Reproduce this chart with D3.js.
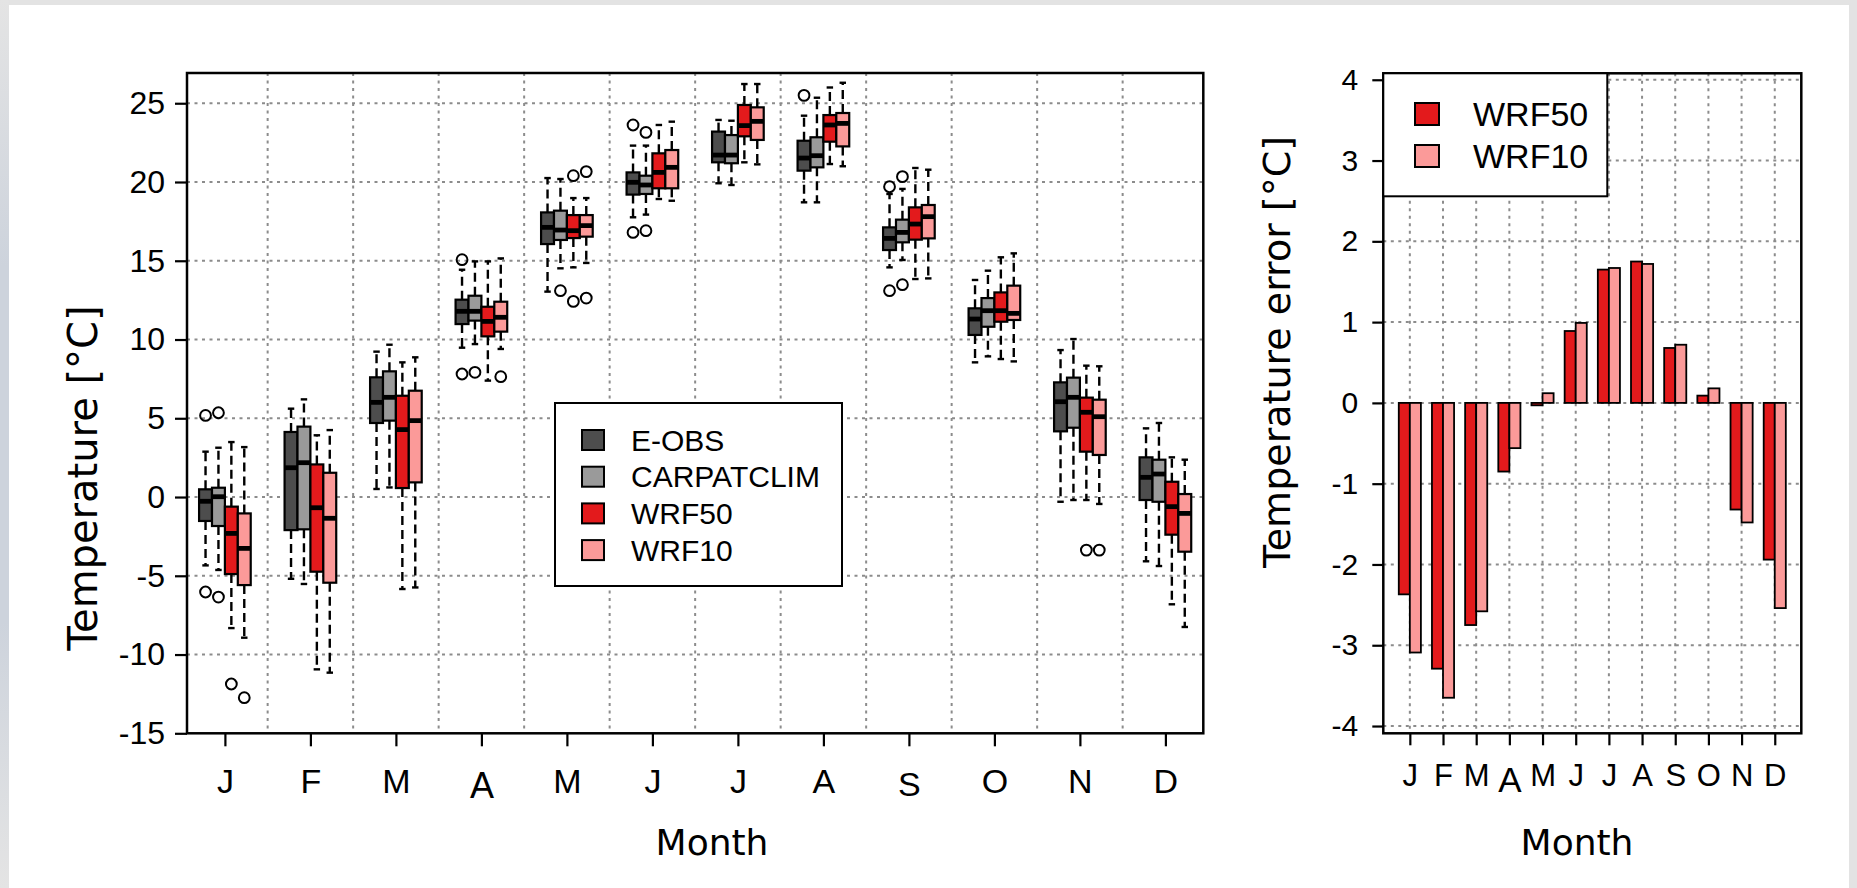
<!DOCTYPE html>
<html><head><meta charset="utf-8">
<script src="https://cdn.jsdelivr.net/npm/d3@7"></script>
<style>
html,body{margin:0;padding:0;background:#fff;}
svg{display:block;}
text{font-family:"Liberation Sans",Arial,sans-serif;fill:#000;}
.title{font-family:"DejaVu Sans",sans-serif;}
</style></head>
<body>
<svg id="chart" width="1857" height="888"></svg>
<script>
// ---------------- DATA ----------------
const months = ["J","F","M","A","M","J","J","A","S","O","N","D"];
const seriesNames = ["E-OBS","CARPATCLIM","WRF50","WRF10"];
const seriesColors = ["#4d4d4d","#9a9a9a","#e31a1c","#fb9a99"];
const tempTicks = [-15,-10,-5,0,5,10,15,20,25];
const errTicks = [-4,-3,-2,-1,0,1,2,3,4];

// box statistics per month: [lower whisker, Q1, median, Q3, upper whisker]
const eobsStats = [
  [-4.34,-1.52,-0.27,0.49,2.88],[-5.19,-2.10,1.86,4.13,5.61],[0.51,4.70,6.01,7.60,9.23],
  [9.48,10.98,11.79,12.53,14.43],[13.04,16.06,17.12,18.07,20.25],[17.76,19.20,19.98,20.61,22.31],
  [19.92,21.25,21.71,23.20,23.94],[18.71,20.72,21.52,22.62,24.21],[14.58,15.68,16.42,17.12,19.24],
  [8.55,10.29,11.30,11.98,13.78],[-0.30,4.17,6.05,7.28,9.33],[-4.08,-0.19,1.25,2.52,4.36]];
const carpStats = [
  [-4.63,-1.84,0.02,0.59,3.13],[-5.52,-2.05,2.18,4.47,6.20],[0.61,4.85,6.33,7.98,9.67],
  [9.71,11.20,11.79,12.78,14.96],[14.52,16.32,16.95,18.18,20.19],[17.93,19.24,19.81,20.40,22.31],
  [19.81,21.19,21.71,22.98,23.89],[18.71,20.93,21.67,22.84,25.35],[15.05,16.17,16.80,17.61,19.56],
  [8.93,10.81,11.83,12.63,14.37],[-0.19,4.40,6.33,7.58,10.03],[-4.38,-0.30,1.46,2.37,4.70]];
const wrf50Stats = [
  [-8.32,-4.89,-2.31,-0.61,3.49],[-10.94,-4.74,-0.68,2.07,3.92],[-5.84,0.57,4.28,6.43,8.55],
  [7.39,10.20,11.15,12.08,14.96],[14.58,16.44,16.91,17.90,18.98],[18.92,19.60,20.61,21.82,23.62],
  [21.25,22.90,23.58,24.89,26.22],[21.14,22.56,23.62,24.25,26.00],[13.84,16.34,17.33,18.39,20.89],
  [8.76,11.13,11.83,12.99,15.22],[-0.19,2.88,5.38,6.31,8.34],[-6.81,-2.39,-0.61,0.97,2.52]];
const wrf10Stats = [
  [-8.93,-5.59,-3.26,-1.04,3.17],[-11.15,-5.44,-1.35,1.54,4.25],[-5.74,0.93,4.85,6.75,8.87],
  [9.40,10.50,11.41,12.40,15.15],[14.86,16.53,17.23,17.90,18.98],[18.81,19.60,20.93,22.03,23.83],
  [21.12,22.67,23.85,24.74,26.22],[21.00,22.26,23.72,24.38,26.30],[13.88,16.42,17.80,18.54,20.78],
  [8.61,11.24,11.66,13.42,15.47],[-0.44,2.67,5.10,6.18,8.30],[-8.25,-3.47,-1.04,0.19,2.37]];
// outliers per month
const eobsOut = [[5.18,-6.03],[],[],[15.07,7.81],[],[23.62,16.80],[],[25.50],[19.70,13.10],[],[],[]];
const carpOut = [[5.35,-6.35],[],[],[7.92],[13.10],[23.15,16.91],[],[],[20.34,13.48],[],[],[]];
const wrf50Out = [[-11.87],[],[],[],[20.40,12.42],[],[],[],[],[],[-3.37],[]];
const wrf10Out = [[-12.74],[],[],[7.64],[20.66,12.63],[],[],[],[],[],[-3.37],[]];

// mean temperature error [°C]
const wrf50Err = [-2.37,-3.29,-2.75,-0.85,-0.03,0.89,1.65,1.75,0.68,0.09,-1.32,-1.94];
const wrf10Err = [-3.09,-3.65,-2.58,-0.56,0.12,0.99,1.67,1.72,0.72,0.18,-1.48,-2.54];

const allStats = [eobsStats, carpStats, wrf50Stats, wrf10Stats];
const allOut = [eobsOut, carpOut, wrf50Out, wrf10Out];

// ---------------- DRAW ----------------
const svg = d3.select("#chart");
const defs = svg.append("defs");
const lg = defs.append("linearGradient").attr("id","edge").attr("x1",0).attr("x2",0).attr("y1",0).attr("y2",1);
lg.append("stop").attr("offset","0").attr("stop-color","#e4e4e4");
lg.append("stop").attr("offset","0.3").attr("stop-color","#cdd3dc");
lg.append("stop").attr("offset","0.7").attr("stop-color","#cdd3dc");
lg.append("stop").attr("offset","1").attr("stop-color","#e4e4e4");
svg.append("rect").attr("width",1857).attr("height",888).attr("fill","#e3e3e3");
svg.append("rect").attr("x",0).attr("y",0).attr("width",9).attr("height",888).attr("fill","url(#edge)");
svg.append("rect").attr("x",9).attr("y",5).attr("width",1840).attr("height",883).attr("fill","#fff");

const gridCol = "#8c8c8c";
const fmt = d => String(d);   // plain hyphen-minus as in the original

// ===== LEFT: boxplots =====
const L = {x0:187, x1:1203.3, y0:73, y1:733.3};
const xL = d3.scaleLinear().domain([-0.4433, 11.4433]).range([L.x0, L.x1]);
const yL = d3.scaleLinear().domain([-15, 26.92]).range([L.y1, L.y0]);
const step = 0.151;
const offs = [-1.5,-0.5,0.5,1.5].map(k => k*step);
const bw = xL(step) - xL(0);

const gl = svg.append("g");
gl.selectAll(".hg").data(tempTicks.filter(t => t > -15)).join("line")
  .attr("x1",L.x0).attr("x2",L.x1).attr("y1",d=>yL(d)).attr("y2",d=>yL(d))
  .attr("stroke",gridCol).attr("stroke-width",2).attr("stroke-dasharray","3,4.5");
gl.selectAll(".vg").data(d3.range(11).map(i=>i+0.5)).join("line")
  .attr("x1",d=>xL(d)).attr("x2",d=>xL(d)).attr("y1",L.y0).attr("y2",L.y1)
  .attr("stroke",gridCol).attr("stroke-width",2).attr("stroke-dasharray","3,4.5");

for (let m = 0; m < 12; m++) {
  for (let s = 0; s < 4; s++) {
    const st = allStats[s][m];
    const cx = xL(m + offs[s]);
    const g = gl.append("g");
    [[st[3],st[4]],[st[1],st[0]]].forEach(([a,b]) => {
      g.append("line").attr("x1",cx).attr("x2",cx).attr("y1",yL(a)).attr("y2",yL(b))
        .attr("stroke","#000").attr("stroke-width",2.4).attr("stroke-dasharray","9,5");
    });
    [st[0],st[4]].forEach(v => {
      g.append("line").attr("x1",cx-bw/4).attr("x2",cx+bw/4).attr("y1",yL(v)).attr("y2",yL(v))
        .attr("stroke","#000").attr("stroke-width",2.4);
    });
    g.append("rect").attr("x",cx-bw/2).attr("width",bw)
      .attr("y",yL(st[3])).attr("height",yL(st[1])-yL(st[3]))
      .attr("fill",seriesColors[s]).attr("stroke","#000").attr("stroke-width",2.2);
    g.append("line").attr("x1",cx-bw/2).attr("x2",cx+bw/2).attr("y1",yL(st[2])).attr("y2",yL(st[2]))
      .attr("stroke","#000").attr("stroke-width",4.8);
    allOut[s][m].forEach(v => {
      g.append("circle").attr("cx",cx).attr("cy",yL(v)).attr("r",5.4)
        .attr("fill","none").attr("stroke","#000").attr("stroke-width",2);
    });
  }
}
gl.append("rect").attr("x",L.x0).attr("y",L.y0).attr("width",L.x1-L.x0).attr("height",L.y1-L.y0)
  .attr("fill","none").attr("stroke","#000").attr("stroke-width",2.5);

const axL = gl.append("g").attr("transform",`translate(${L.x0},0)`)
  .call(d3.axisLeft(yL).tickValues(tempTicks).tickFormat(fmt).tickSize(12).tickPadding(10));
const axB = gl.append("g").attr("transform",`translate(0,${L.y1})`)
  .call(d3.axisBottom(xL).tickValues(d3.range(12)).tickFormat(i=>months[i]).tickSize(13));
[axL, axB].forEach(a => {
  a.select(".domain").remove();
  a.selectAll("line").attr("stroke","#000").attr("stroke-width",2.2);
  a.selectAll("text").attr("font-family","Liberation Sans, Arial, sans-serif");
});
axL.selectAll("text").attr("font-size",32);
axB.selectAll("text").attr("font-size",34).attr("dy",null)
  .attr("y",(d)=> 60 + (d===3 ? 5 : d===8 ? 3 : 0));
axB.selectAll("text").filter(d=>d===3).attr("font-size",36);

// legend
const lgL = gl.append("g");
lgL.append("rect").attr("x",555).attr("y",403).attr("width",287).attr("height",183)
  .attr("fill","#fff").attr("stroke","#000").attr("stroke-width",2);
seriesNames.forEach((n,i) => {
  const cy = 440 + i*36.7;
  lgL.append("rect").attr("x",582).attr("y",cy-10).attr("width",22).attr("height",20)
    .attr("fill",seriesColors[i]).attr("stroke","#000").attr("stroke-width",2);
  lgL.append("text").attr("x",631).attr("y",cy).attr("dominant-baseline","central")
    .attr("font-size",30).text(n);
});

svg.append("text").attr("class","title").attr("transform","translate(97,478) rotate(-90)")
  .attr("text-anchor","middle").attr("font-size",40).text("Temperature [°C]");
svg.append("text").attr("class","title").attr("x",712).attr("y",855)
  .attr("text-anchor","middle").attr("font-size",36).text("Month");

// ===== RIGHT: error bars =====
const R = {x0:1383.3, x1:1801.3, y0:73.3, y1:733.3};
const xR = d3.scaleLinear().domain([-0.4, 37.4]).range([R.x0, R.x1]);
const yR = d3.scaleLinear().domain([-4.09, 4.08]).range([R.y1, R.y0]);
const gr = svg.append("g");
const centers = d3.range(12).map(m => 2 + 3*m);
gr.selectAll(".hg").data(errTicks).join("line")
  .attr("x1",R.x0).attr("x2",R.x1).attr("y1",d=>yR(d)).attr("y2",d=>yR(d))
  .attr("stroke",gridCol).attr("stroke-width",2).attr("stroke-dasharray","3,4.5");
gr.selectAll(".vg").data(centers).join("line")
  .attr("x1",d=>xR(d)).attr("x2",d=>xR(d)).attr("y1",R.y0).attr("y2",R.y1)
  .attr("stroke",gridCol).attr("stroke-width",2).attr("stroke-dasharray","3,4.5");
[wrf50Err, wrf10Err].forEach((arr, k) => {
  gr.selectAll(".bar"+k).data(arr).join("rect")
    .attr("x",(d,m)=>xR(1 + 3*m + k)).attr("width",xR(1)-xR(0))
    .attr("y",d=>yR(Math.max(0,d))).attr("height",d=>Math.abs(yR(d)-yR(0)))
    .attr("fill",seriesColors[2+k]).attr("stroke","#000").attr("stroke-width",1.8);
});
gr.append("rect").attr("x",R.x0).attr("y",R.y0).attr("width",R.x1-R.x0).attr("height",R.y1-R.y0)
  .attr("fill","none").attr("stroke","#000").attr("stroke-width",2.5);
const axRL = gr.append("g").attr("transform",`translate(${R.x0},0)`)
  .call(d3.axisLeft(yR).tickValues(errTicks).tickFormat(fmt).tickSize(11).tickPadding(14));
const axRB = gr.append("g").attr("transform",`translate(0,${R.y1})`)
  .call(d3.axisBottom(xR).tickValues(centers).tickFormat((d,i)=>months[i]).tickSize(12));
[axRL, axRB].forEach(a => {
  a.select(".domain").remove();
  a.selectAll("line").attr("stroke","#000").attr("stroke-width",2.2);
  a.selectAll("text").attr("font-family","Liberation Sans, Arial, sans-serif");
});
axRL.selectAll("text").attr("font-size",30);
axRB.selectAll("text").attr("font-size",31).attr("dy",null)
  .attr("y",(d,i)=> 53 + (i===3 ? 6 : 0));
axRB.selectAll("text").filter((d,i)=>i===3).attr("font-size",35);

const lgR = gr.append("g");
lgR.append("rect").attr("x",R.x0).attr("y",R.y0).attr("width",224).attr("height",123)
  .attr("fill","#fff").attr("stroke","#000").attr("stroke-width",2);
["WRF50","WRF10"].forEach((n,i) => {
  const cy = 114 + i*42;
  lgR.append("rect").attr("x",1415).attr("y",cy-11).attr("width",24).attr("height",22)
    .attr("fill",seriesColors[2+i]).attr("stroke","#000").attr("stroke-width",2);
  lgR.append("text").attr("x",1473).attr("y",cy).attr("dominant-baseline","central")
    .attr("font-size",34).text(n);
});

svg.append("text").attr("class","title").attr("transform","translate(1290,352) rotate(-90)")
  .attr("text-anchor","middle").attr("font-size",38).text("Temperature error [°C]");
svg.append("text").attr("class","title").attr("x",1577).attr("y",855)
  .attr("text-anchor","middle").attr("font-size",36).text("Month");
</script>
</body></html>
